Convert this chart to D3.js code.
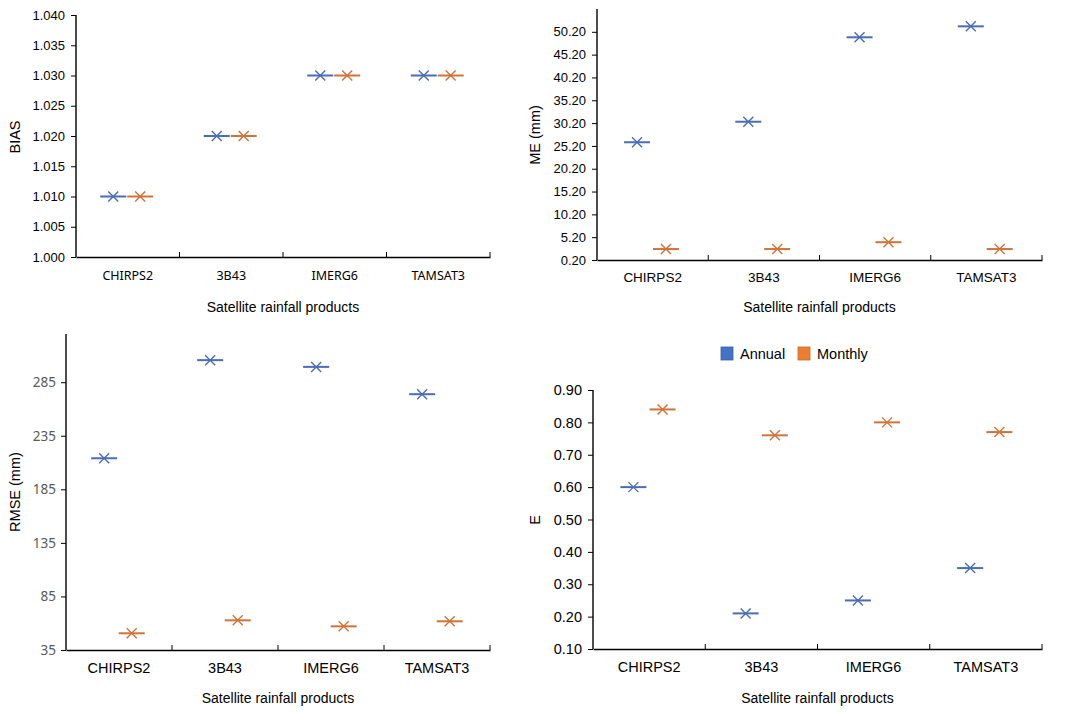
<!DOCTYPE html>
<html>
<head>
<meta charset="utf-8">
<script src="https://cdn.jsdelivr.net/npm/d3@7"></script>
<style>
  body { margin: 0; background: #fff; }
  svg { display: block; }
</style>
</head>
<body>
<svg id="chart" width="1068" height="715"></svg>
<script>
// data
const products = ['CHIRPS2', '3B43', 'IMERG6', 'TAMSAT3'];
const seriesNames = ['Annual', 'Monthly'];

const biasAnnual = [1.01, 1.02, 1.03, 1.03];
const biasMonthly = [1.01, 1.02, 1.03, 1.03];
const biasTicks = [1.000, 1.005, 1.010, 1.015, 1.020, 1.025, 1.030, 1.035, 1.040];

const meAnnual = [26.0, 30.5, 49.0, 51.4];
const meMonthly = [2.6, 2.6, 4.1, 2.6];
const meTicks = [0.2, 5.2, 10.2, 15.2, 20.2, 25.2, 30.2, 35.2, 40.2, 45.2, 50.2];

const rmseAnnual = [214, 305.6, 299.3, 273.8];
const rmseMonthly = [50.6, 62.7, 57.1, 61.8];
const rmseTicks = [35, 85, 135, 185, 235, 285];

const eAnnual = [0.60, 0.21, 0.25, 0.35];
const eMonthly = [0.84, 0.76, 0.80, 0.77];
const eTicks = [0.10, 0.20, 0.30, 0.40, 0.50, 0.60, 0.70, 0.80, 0.90];

const markColor = { Annual: '#4a6db5', Monthly: '#d0733a' };
const legendColor = { Annual: '#4472c4', Monthly: '#ed7d31' };
const seriesShift = { Annual: -0.14, Monthly: 0.12 }; // fraction of band

const svg = d3.select('#chart');
const ARIAL = '"Liberation Sans", Arial, sans-serif';
const SEGOE = '"Noto Sans", "Open Sans", sans-serif';

function panel(o) {
  const g = svg.append('g');
  const x = d3.scaleBand().domain(products).range([o.x0, o.x1]).padding(0);
  const y = d3.scaleLinear().domain(o.domain).range([o.y1, o.y0]);

  // y axis
  const ya = g.append('g')
    .attr('transform', `translate(${o.x0},0)`)
    .call(d3.axisLeft(y).tickValues(o.ticks).tickFormat(d3.format(o.fmt))
      .tickSize(5).tickSizeOuter(0).tickPadding(o.tickPad || 6));
  ya.select('.domain').attr('d', `M0,${o.y0}V${o.y1}`).attr('stroke', '#000').attr('stroke-width', 1.4);
  ya.selectAll('.tick line').attr('stroke', '#000').attr('stroke-width', 1);
  ya.selectAll('.tick text')
    .style('font-family', o.tickFont).style('font-size', o.tickSize + 'px')
    .attr('fill', o.tickColor || '#000');

  // x axis
  const xa = g.append('g')
    .attr('transform', `translate(0,${o.y1})`)
    .call(d3.axisBottom(x).tickSize(0).tickSizeOuter(0).tickPadding(o.catPad));
  xa.select('.domain').attr('stroke', '#000').attr('stroke-width', 1.4);
  xa.selectAll('.tick text')
    .style('font-family', o.catFont).style('font-size', o.catSize + 'px')
    .attr('fill', '#000');
  const bounds = products.map(p => x(p)).concat([o.x1]).slice(1);
  xa.selectAll('.bnd').data(bounds).enter().append('line')
    .attr('x1', d => d).attr('x2', d => d).attr('y1', 0).attr('y2', -5)
    .attr('stroke', '#000').attr('stroke-width', 1);

  // axis titles
  g.append('text')
    .attr('x', (o.x0 + o.x1) / 2).attr('y', o.xTitleY)
    .attr('text-anchor', 'middle')
    .style('font-family', ARIAL).style('font-size', '14px')
    .text('Satellite rainfall products');
  g.append('text')
    .attr('transform', `translate(${o.yTitleX},${o.yTitleY}) rotate(-90)`)
    .attr('text-anchor', 'middle')
    .style('font-family', ARIAL).style('font-size', '14.5px')
    .text(o.yTitle);

  // markers
  const bw = x.bandwidth();
  const pts = [];
  seriesNames.forEach((s, si) => {
    const vals = si === 0 ? o.annual : o.monthly;
    vals.forEach((v, i) => pts.push({ s, cx: x(products[i]) + bw / 2 + seriesShift[s] * bw, cy: y(v) }));
  });
  const m = g.selectAll('.mk').data(pts).enter().append('g')
    .attr('transform', d => `translate(${d.cx},${d.cy})`)
    .attr('stroke', d => markColor[d.s]).attr('fill', 'none');
  m.append('line').attr('x1', -13).attr('x2', 13).attr('y1', 0).attr('y2', 0).attr('stroke-width', 2);
  m.append('path').attr('d', 'M-5,-5L5,5M-5,5L5,-5').attr('stroke-width', 1.4);
}

panel({
  x0: 76, x1: 490, y0: 15, y1: 257, domain: [1.0, 1.04], ticks: biasTicks, fmt: '.3f',
  tickFont: ARIAL, tickSize: 13, catFont: SEGOE, catSize: 12.5, catPad: 14,
  xTitleY: 312, yTitle: 'BIAS', yTitleX: 20, yTitleY: 137,
  annual: biasAnnual, monthly: biasMonthly
});

panel({
  x0: 597, x1: 1042, y0: 9, y1: 260, domain: [0.2, 55.2], ticks: meTicks, fmt: '.2f',
  tickFont: ARIAL, tickSize: 13, catFont: ARIAL, catSize: 13.5, catPad: 12,
  xTitleY: 312, yTitle: 'ME (mm)', yTitleX: 540, yTitleY: 135,
  annual: meAnnual, monthly: meMonthly
});

panel({
  x0: 66, x1: 490, y0: 334, y1: 650, domain: [35, 330], ticks: rmseTicks, fmt: 'd',
  tickFont: SEGOE, tickSize: 13.5, tickColor: '#595959', tickPad: 5, catFont: ARIAL, catSize: 14.5, catPad: 13,
  xTitleY: 703, yTitle: 'RMSE (mm)', yTitleX: 20, yTitleY: 492,
  annual: rmseAnnual, monthly: rmseMonthly
});

panel({
  x0: 593, x1: 1042, y0: 390, y1: 649, domain: [0.1, 0.9], ticks: eTicks, fmt: '.2f',
  tickFont: ARIAL, tickSize: 14.5, catFont: ARIAL, catSize: 14.5, catPad: 13,
  xTitleY: 703, yTitle: 'E', yTitleX: 540, yTitleY: 520,
  annual: eAnnual, monthly: eMonthly
});

// legend
const lg = svg.append('g').attr('transform', 'translate(721,347)');
const li = lg.selectAll('g').data(seriesNames).enter().append('g')
  .attr('transform', (d, i) => `translate(${i * 77},0)`);
li.append('rect').attr('width', 12).attr('height', 13)
  .attr('fill', d => legendColor[d]).attr('stroke', d => d3.color(legendColor[d]).darker(0.5)).attr('stroke-width', 0.8);
li.append('text').attr('x', 19).attr('y', 12)
  .style('font-family', ARIAL).style('font-size', '14.5px')
  .text(d => d);
</script>
</body>
</html>
